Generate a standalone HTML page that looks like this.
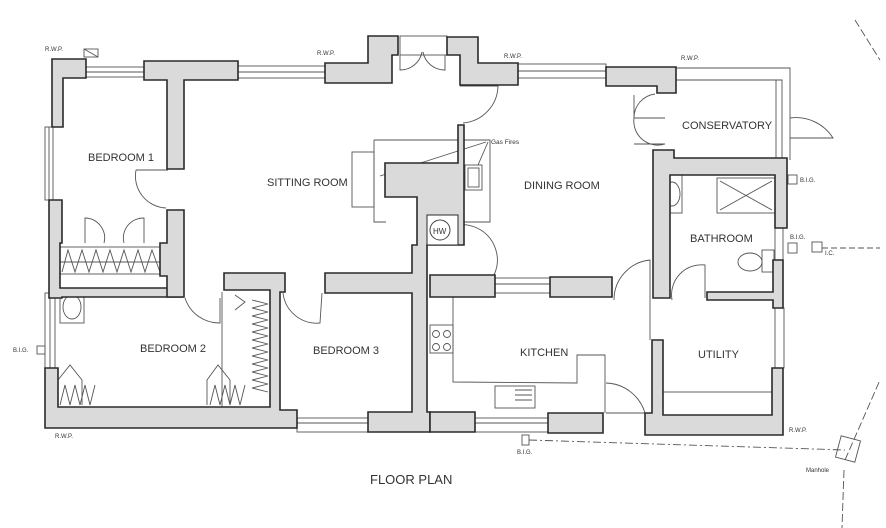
<!DOCTYPE html>
<html><head><meta charset="utf-8"><style>
html,body{margin:0;padding:0;background:#fff}
svg{display:block}
text{font-family:"Liberation Sans",sans-serif;fill:#333}
.w{fill:#dadada;stroke:#2a2a2a;stroke-width:1.6}
.t{fill:none;stroke:#555;stroke-width:0.9}
.l{font-size:11px}
.s{font-size:6px}
</style></head><body>
<svg width="886" height="528" viewBox="0 0 886 528">
<!-- windows -->
<g class="t">
<rect x="86" y="67" width="58" height="10"/><line x1="86" y1="72" x2="144" y2="72"/>
<rect x="238" y="66" width="87" height="12"/><line x1="238" y1="72" x2="325" y2="72"/>
<rect x="518" y="64" width="88" height="14"/><line x1="518" y1="71" x2="606" y2="71"/>
<rect x="45" y="127" width="8" height="73"/><line x1="49" y1="127" x2="49" y2="200"/>
<rect x="45" y="293" width="10" height="75"/><line x1="50" y1="293" x2="50" y2="368"/>
<rect x="297" y="418" width="72" height="14"/><line x1="297" y1="423" x2="369" y2="423"/>
<rect x="475" y="418" width="73" height="14"/><line x1="475" y1="423" x2="548" y2="423"/>
<rect x="495" y="278" width="55" height="15"/><line x1="495" y1="284" x2="550" y2="284"/>
<rect x="775" y="228" width="8" height="32"/>
<rect x="775" y="308" width="9" height="60"/>
<!-- conservatory -->
<polyline points="676,68 790,68 790,160"/><polyline points="676,80 782,80 782,160"/>
<line x1="776" y1="80" x2="776" y2="160"/>
<path d="M790,118 A44,44 0 0 1 833,138 L790,138"/>
<!-- French doors top -->
<path d="M400,55 L400,70 A22,22 0 0 0 422,52 M445,55 L445,70 A22,22 0 0 1 423,52"/>
<rect x="400" y="36" width="47" height="19"/>
<!-- doors -->
<path d="M136,170 L168,170 M136,170 A32,32 0 0 0 166,208"/>
<path d="M85,243 L85,218 A20,20 0 0 1 104,243 M144,243 L144,218 A20,20 0 0 0 124,243"/>
<path d="M460,86 L498,86 A38,38 0 0 1 463,123"/>
<path d="M634,95 L634,118 L665,118 M634,118 A24,24 0 0 1 655,94 M634,118 A24,24 0 0 0 665,144 L634,144"/>
<path d="M430,245 A30,30 0 0 1 494,275 L430,275"/>
<path d="M614,300 A40,40 0 0 1 650,260 L650,300"/>
<path d="M672,300 A30,30 0 0 1 705,265 L705,298"/>
<path d="M185,298 A36,36 0 0 0 220,323 L220,298"/>
<path d="M283,293 A34,34 0 0 0 320,323 L322,293"/>
<path d="M606,383 A42,42 0 0 1 645,413 L606,413"/>
<line x1="650" y1="300" x2="650" y2="340"/>
<!-- fireplace -->
<rect x="352" y="152" width="22" height="55"/>
<polyline points="374,140 490,140 490,222 460,222"/>
<polyline points="374,140 374,222 386,222"/>
<rect x="465" y="165" width="17" height="25"/><rect x="468" y="168" width="11" height="19"/>
<line x1="380" y1="176" x2="486" y2="142"/><line x1="478" y1="165" x2="488" y2="142"/>
<!-- HW -->
<circle cx="440" cy="230" r="10"/>
<!-- wardrobes -->
<rect x="60" y="247" width="106" height="27"/>
<polyline points="62,272 68,250 75,272 82,250 89,272 96,250 103,272 110,250 117,272 124,250 131,272 138,250 145,272 152,250 160,272"/>
<line x1="60" y1="262" x2="166" y2="262"/>
<polyline points="222,292 222,407 M250,296 L250,395"/>
<polyline points="252,300 268,304 252,308 268,312 252,316 268,320 252,324 268,328 252,332 268,336 252,340 268,344 252,348 268,352 252,356 268,360 252,364 268,368 252,372 268,376 252,380 268,384 252,388 268,392"/>
<polyline points="235,295 245,302 235,310 M235,325 245,335 235,345 M235,365 245,372 235,380"/>
<polyline points="207,405 207,380 218,365 230,380 230,405"/>
<polyline points="58,405 58,380 70,365 82,380 82,405"/>
<polyline points="60,405 65,385 70,405 75,385 80,405 85,385 90,405 95,385"/>
<polyline points="210,405 215,385 220,405 225,385 230,405 235,385 240,405 245,385"/>
<!-- basins -->
<rect x="60" y="291" width="24" height="32"/><ellipse cx="72" cy="307" rx="9" ry="12"/>
<rect x="662" y="175" width="20" height="38"/><ellipse cx="672" cy="194" rx="8" ry="12"/>
<rect x="717" y="178" width="58" height="35"/><line x1="720" y1="181" x2="772" y2="210"/><line x1="772" y1="181" x2="720" y2="210"/>
<ellipse cx="750" cy="262" rx="12" ry="9"/><rect x="762" y="250" width="12" height="22"/>
<!-- kitchen -->
<polyline points="453,297 453,382 577,383 577,355 605,355 605,413"/>
<rect x="495" y="386" width="40" height="22"/><line x1="515" y1="390" x2="532" y2="390"/><line x1="515" y1="395" x2="532" y2="395"/><line x1="515" y1="400" x2="532" y2="400"/>
<rect x="430" y="325" width="23" height="28"/>
<circle cx="436" cy="334" r="3.5"/><circle cx="447" cy="334" r="3.5"/><circle cx="436" cy="347" r="3.5"/><circle cx="447" cy="347" r="3.5"/>
<!-- utility bay -->
<rect x="663" y="392" width="110" height="23"/>
<!-- outside items -->
<rect x="84" y="49" width="14" height="8"/><line x1="84" y1="49" x2="98" y2="57"/>
<rect x="37" y="346" width="8" height="8"/>
<rect x="788" y="175" width="9" height="9"/><rect x="788" y="243" width="9" height="10"/><rect x="812" y="242" width="10" height="10"/>
<rect x="522" y="435" width="7" height="10"/>
<rect x="838" y="438" width="20" height="22" transform="rotate(15 848 449)"/>
<line x1="822" y1="248" x2="880" y2="248" stroke-dasharray="6,3"/>
<line x1="529" y1="440" x2="845" y2="450" stroke-dasharray="8,3,2,3"/>
<line x1="855" y1="20" x2="880" y2="60" stroke-dasharray="8,3"/>
<line x1="845" y1="460" x2="880" y2="380" stroke-dasharray="8,3"/>
<line x1="844" y1="470" x2="842" y2="528" stroke-dasharray="8,3"/>
</g>
<!-- walls -->
<g class="w">
<polygon points="52,59 86,59 86,78 63,78 63,127 52,127"/>
<polygon points="144,61 238,61 238,80 184,80 184,169 167,169 167,80 144,80"/>
<polygon points="325,63 368,63 368,36 398,36 398,55 392,55 392,83 325,83"/>
<polygon points="447,37 478,37 478,63 518,63 518,85 460,85 460,55 447,55"/>
<polygon points="606,67 676,67 676,93 657,93 657,86 606,86"/>
<polygon points="49,200 62,200 62,243 60,243 60,288 182,288 182,297 62,297 62,298 49,298"/>
<polygon points="167,210 184,210 184,297 167,297 167,276 160,276 160,243 167,243"/>
<polygon points="45,368 58,368 58,407 270,407 270,290 224,290 224,273 285,273 285,292 280,292 280,410 297,410 297,428 45,428"/>
<polygon points="325,273 412,273 412,245 417,245 417,197 385,197 385,163 458,163 458,125 464,125 464,245 427,245 427,412 430,412 430,432 368,432 368,412 412,412 412,293 325,293"/>
<polygon points="430,275 495,275 495,297 430,297"/>
<polygon points="550,277 612,277 612,297 550,297"/>
<polygon points="430,412 475,412 475,432 430,432"/>
<polygon points="548,413 603,413 603,433 548,433"/>
<polygon points="653,150 674,150 674,158 787,158 787,228 775,228 775,175 670,175 670,298 653,298"/>
<polygon points="707,292 773,292 773,260 783,260 783,308 773,308 773,300 707,300"/>
<polygon points="652,340 663,340 663,415 772,415 772,368 783,368 783,435 645,435 645,413 652,413"/>
</g>
<rect x="427" y="215" width="31" height="30" fill="#fff" stroke="#2a2a2a" stroke-width="1"/>
<circle cx="440" cy="230" r="10" fill="none" stroke="#444"/>
<text x="433" y="234" style="font-size:8px">HW</text>
<!-- labels -->
<text class="l" x="88" y="161">BEDROOM 1</text>
<text class="l" x="267" y="186">SITTING ROOM</text>
<text class="l" x="524" y="189">DINING ROOM</text>
<text class="l" x="682" y="129">CONSERVATORY</text>
<text class="l" x="690" y="242">BATHROOM</text>
<text class="l" x="140" y="352">BEDROOM 2</text>
<text class="l" x="313" y="354">BEDROOM 3</text>
<text class="l" x="520" y="356">KITCHEN</text>
<text class="l" x="698" y="358">UTILITY</text>
<text x="370" y="484" style="font-size:13px">FLOOR PLAN</text>
<text x="491" y="144" style="font-size:6.5px">Gas Fires</text>
<g class="s">
<text x="45" y="51">R.W.P.</text><text x="317" y="55">R.W.P.</text><text x="504" y="58">R.W.P.</text><text x="681" y="60">R.W.P.</text>
<text x="13" y="352">B.I.G.</text><text x="800" y="182">B.I.G.</text><text x="790" y="239">B.I.G.</text><text x="825" y="255">I.C.</text>
<text x="55" y="438">R.W.P.</text><text x="789" y="432">R.W.P.</text><text x="517" y="454">B.I.G.</text><text x="806" y="472">Manhole</text>
</g>
</svg>
</body></html>
